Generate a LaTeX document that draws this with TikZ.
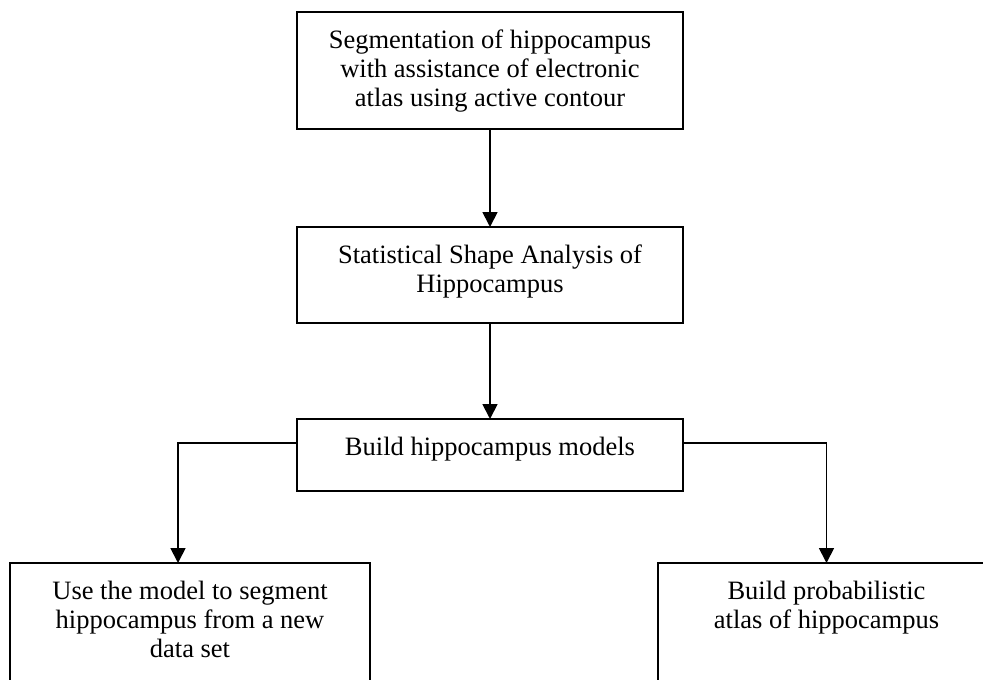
\documentclass[tikz,border=0pt]{standalone}
\usepackage{fontspec}
\setmainfont{Liberation Serif}
\usetikzlibrary{arrows.meta,positioning}

\begin{document}
\begin{tikzpicture}[x=1pt, y=-1pt,
  box/.style={draw, line width=1.8pt, inner sep=0pt, outer sep=0pt},
  label text/.style={align=center, inner sep=0pt, anchor=north,
    font=\fontsize{26.5}{29}\selectfont},
  arr/.style={line width=1.8pt, -{Triangle[width=15pt,length=15pt]}}]
  \useasboundingbox (0,0) rectangle (983,680);
  \clip (0,0) rectangle (983,680);

  % process boxes
  \node[box, minimum width=386pt, minimum height=117pt] (b1) at (490,70.5) {};
  \node[box, minimum width=386pt, minimum height=96pt]  (b2) at (490,275) {};
  \node[box, minimum width=386pt, minimum height=72pt]  (b3) at (490,455) {};
  \node[box, minimum width=360pt, minimum height=157pt] (b4) at (190,641.5) {};
  \node[box, minimum width=337pt, minimum height=157pt] (b5) at (826.5,641.5) {};

  % box captions, set from the top edge of each box
  \node[label text, below=17.9pt of b1.north] (t1)
    {Segmentation of hippocampus\\with assistance of electronic\\atlas using active contour};
  \node[label text, below=17.9pt of b2.north] (t2)
    {Statistical Shape Analysis of\\Hippocampus};
  \node[label text, below=17.9pt of b3.north] (t3)
    {Build hippocampus models};
  \node[label text, below=17.9pt of b4.north] (t4)
    {Use the model to segment\\hippocampus from a new\\data set};
  \node[label text, below=17.9pt of b5.north] (t5)
    {Build probabilistic\\atlas of hippocampus};

  % connectors
  \draw[arr] (b1.south) -- (b2.north);
  \draw[arr] (b2.south) -- (b3.north);
  \draw[arr] ([yshift=12pt]b3.west) -| ([xshift=-12pt]b4.north);
  \draw[arr] ([yshift=12pt]b3.east) -| (b5.north);
\end{tikzpicture}
\end{document}
